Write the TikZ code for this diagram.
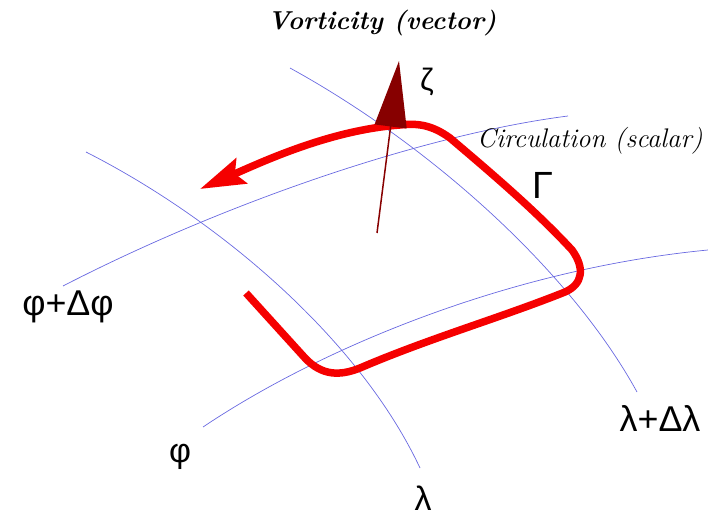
\documentclass[tikz,border=0pt]{standalone}
\usepackage{fontspec}
\newfontfamily\greekfont{Liberation Sans}
\usetikzlibrary{arrows.meta}
\definecolor{gridblue}{RGB}{105,105,225}
\definecolor{circred}{RGB}{245,0,0}
\definecolor{vortred}{RGB}{135,0,0}

\begin{document}
\begin{tikzpicture}[x=1bp,y=-1bp,
 gridline/.style={draw=gridblue,line width=0.7bp},
 greek/.style={font=\greekfont\fontsize{34}{40}\selectfont,inner sep=0pt},
 title/.style={font=\fontsize{26}{30}\selectfont,inner sep=0pt}]
\useasboundingbox (0,0) rectangle (708,519);
% grid lines
\draw[gridline] (63,286) .. controls (220,205) and (420,135) .. (568,116);
\draw[gridline] (203,427) .. controls (330,342) and (520,268) .. (708,250);
\draw[gridline] (86,152) .. controls (220,220) and (360,340) .. (420,468);
\draw[gridline] (290,68) .. controls (430,145) and (570,270) .. (637,392);
% circulation
\draw[circred,line width=7.5bp,-{Stealth[length=45bp,width=27bp,inset=7bp]}]
 (246,293) -- (305,358) .. controls (322,376) and (340,376) .. (360,368)
 .. controls (430,338) and (500,318) .. (565,292)
 .. controls (583,284) and (585,268) .. (572,250)
 .. controls (535,210) and (490,172) .. (450,138)
 .. controls (432,125) and (418,123) .. (400,125)
 .. controls (330,130) and (262,162) .. (200,189);
% vorticity
\draw[vortred,line width=1.5bp,-{Triangle[length=66bp,width=32bp]}] (377,233) -- (399,61);
% labels
\node[title] (vort) at (382,23) {\textbf{\textit{Vorticity (vector)}}};
\node[title,font=\fontsize{27}{31}\selectfont,anchor=base west] (circ) at (477,148) {\textit{Circulation (scalar)}};
\node[greek,font=\greekfont\fontsize{31}{36}\selectfont] (zeta) at (427,82) {ζ};
\node[greek,font=\greekfont\fontsize{38}{44}\selectfont] (gamma) at (543,185) {Γ};
\node[greek,font=\greekfont\fontsize{36}{42}\selectfont] (phidphi) at (68,307) {φ+Δφ};
\node[greek] (phi) at (180,457) {φ};
\node[greek] (lambda) at (423,498) {λ};
\node[greek,font=\greekfont\fontsize{36}{42}\selectfont] (ldl) at (660,419) {λ+Δλ};
\end{tikzpicture}
\end{document}
